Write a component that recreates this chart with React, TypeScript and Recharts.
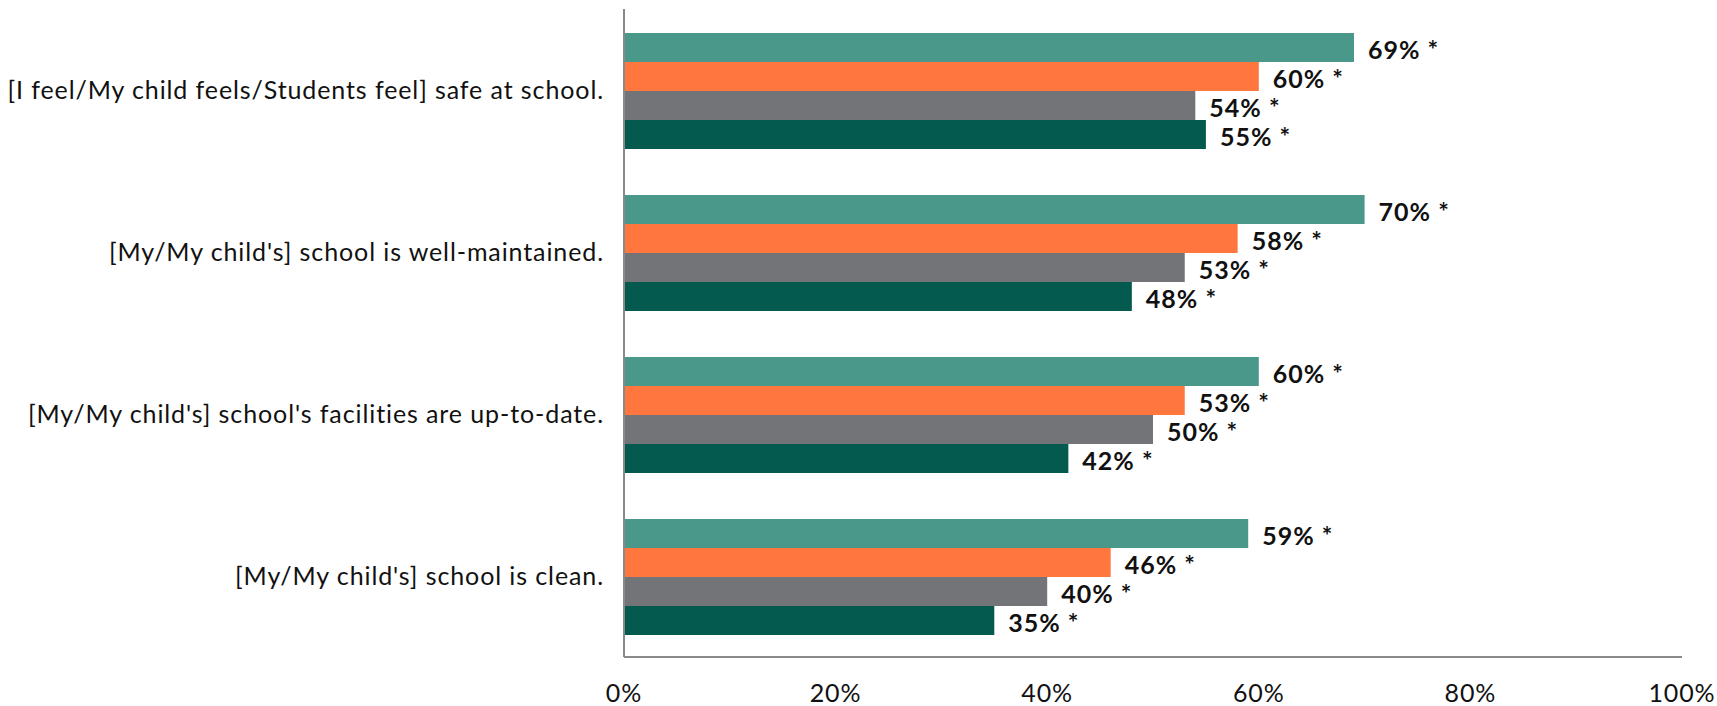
import { BarChart, Bar, XAxis, YAxis, LabelList } from "recharts";

const categories = [
  "[I feel/My child feels/Students feel] safe at school.",
  "[My/My child's] school is well-maintained.",
  "[My/My child's] school's facilities are up-to-date.",
  "[My/My child's] school is clean.",
];
const seriesA = [69, 70, 60, 59];
const seriesB = [60, 58, 53, 46];
const seriesC = [54, 53, 50, 40];
const seriesD = [55, 48, 42, 35];
const xTicks = [0, 20, 40, 60, 80, 100];

const COLORS = ["#4A988A", "#FF763E", "#737477", "#055A50"];
const FONT = "Lato, 'Noto Sans', sans-serif";

const data = categories.map((name, i) => ({
  name,
  a: seriesA[i],
  b: seriesB[i],
  c: seriesC[i],
  d: seriesD[i],
}));

const ValueLabel = (props: any) => {
  const { x, y, width, height, value } = props;
  return (
    <text
      x={x + width + 14}
      y={y + height / 2 + 1}
      dominantBaseline="central"
      fontFamily={FONT}
      fontWeight={700}
      fontSize={25}
      letterSpacing={1}
      fill="#111"
    >
      {`${value}% *`}
    </text>
  );
};

export default function App() {
  return (
    <div>
      <style>{"body{margin:0}"}</style>
      <BarChart
        width={1717}
        height={706}
        data={data}
        layout="vertical"
        margin={{ top: 9, right: 35, bottom: 0, left: 0 }}
        barCategoryGap={24}
        barGap={0}
      >
        <XAxis
          type="number"
          domain={[0, 100]}
          ticks={xTicks}
          tickFormatter={(v) => `${v}%`}
          axisLine={{ stroke: "#898989", strokeWidth: 2 }}
          tickLine={false}
          tickSize={0}
          tickMargin={27}
          height={49}
          interval={0}
          tick={{ fontSize: 25, fill: "#111", fontFamily: FONT, letterSpacing: 0.9 }}
        />
        <YAxis
          type="category"
          dataKey="name"
          width={624}
          axisLine={{ stroke: "#898989", strokeWidth: 2 }}
          tickLine={false}
          tickSize={0}
          tickMargin={20}
          interval={0}
          tick={{ fontSize: 25, fill: "#111", fontFamily: FONT, letterSpacing: 0.9 }}
        />
        {(["a", "b", "c", "d"] as const).map((k, i) => (
          <Bar key={k} dataKey={k} fill={COLORS[i]} isAnimationActive={false}>
            <LabelList dataKey={k} content={ValueLabel} />
          </Bar>
        ))}
      </BarChart>
    </div>
  );
}
